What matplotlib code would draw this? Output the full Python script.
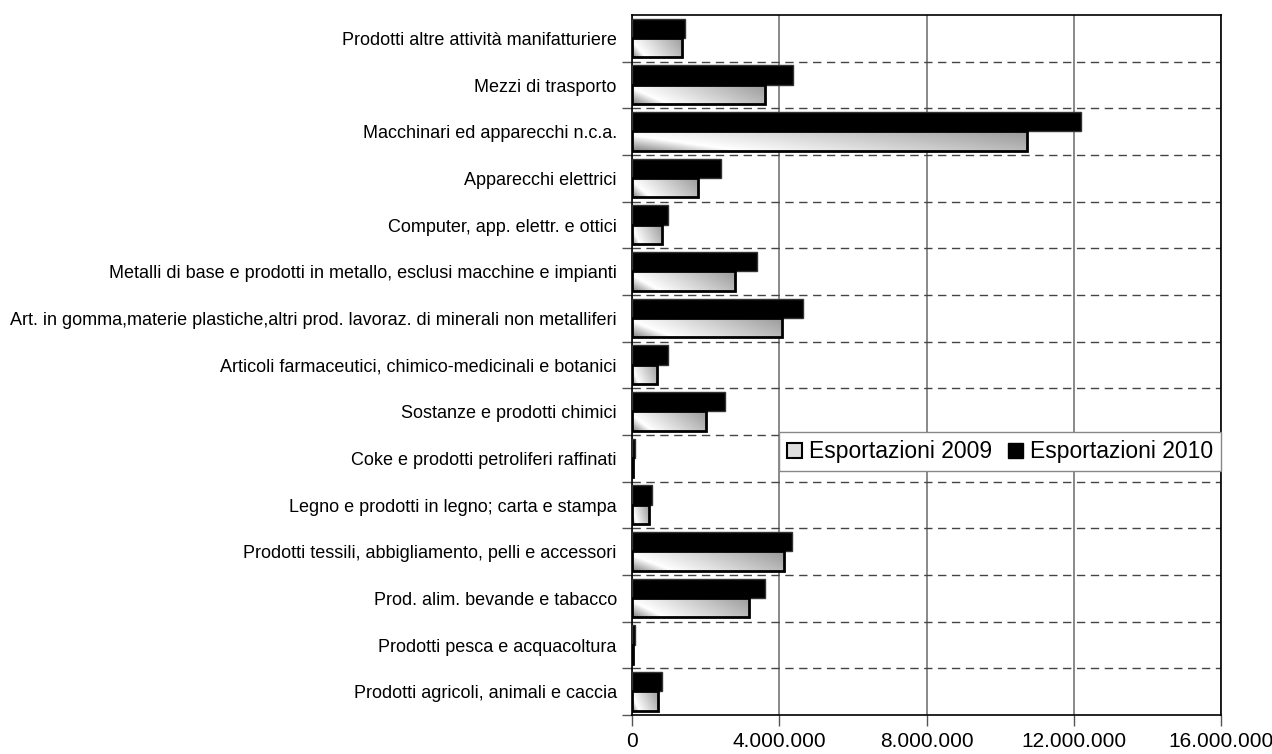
import numpy as np
import matplotlib
matplotlib.use("Agg")
import matplotlib.pyplot as plt
from matplotlib.ticker import FuncFormatter, FixedLocator
from matplotlib.patches import Patch

plt.rcParams['font.family'] = ['Liberation Sans', 'DejaVu Sans']

# categorie dal basso verso l'alto
categorie = [
    "Prodotti agricoli, animali e caccia",
    "Prodotti pesca e acquacoltura",
    "Prod. alim. bevande e tabacco",
    "Prodotti tessili, abbigliamento, pelli e accessori",
    "Legno e prodotti in legno; carta e stampa",
    "Coke e prodotti petroliferi raffinati",
    "Sostanze e prodotti chimici",
    "Articoli farmaceutici, chimico-medicinali e botanici",
    "Art. in gomma,materie plastiche,altri prod. lavoraz. di minerali non metalliferi",
    "Metalli di base e prodotti in metallo, esclusi macchine e impianti",
    "Computer, app. elettr. e ottici",
    "Apparecchi elettrici",
    "Macchinari ed apparecchi n.c.a.",
    "Mezzi di trasporto",
    "Prodotti altre attività manifatturiere",
]
exp_2009 = [710000, 30000, 3180000, 4120000, 460000, 30000, 2020000, 690000,
            4070000, 2800000, 800000, 1790000, 10740000, 3600000, 1370000]
exp_2010 = [820000, 80000, 3600000, 4350000, 540000, 90000, 2520000, 990000,
            4650000, 3390000, 980000, 2410000, 12190000, 4380000, 1430000]
xticks = [0, 4000000, 8000000, 12000000, 16000000]

fig = plt.figure(figsize=(12.72, 7.54), dpi=100)
ax = fig.add_axes([0.4969, 0.0517, 0.4630, 0.9284])

y = np.arange(len(categorie))
h = 0.42

bars10 = ax.barh(y + 0.215, exp_2010, height=h, color='black',
                 edgecolor='#333333', linewidth=1, zorder=3)
bars09 = ax.barh(y - 0.2, exp_2009, height=h, color='none',
                 edgecolor='black', linewidth=2, zorder=4)

# riempimento sfumato delle barre 2009
gx = np.linspace(0, 1, 200)
gy = np.linspace(0, 1, 40)
X, Y = np.meshgrid(gx, gy)
t = 0.75 * X + 0.25 * (1 - Y)
grad = np.where(t < 0.2, 0.5 + 0.5 * t / 0.2,
                1.0 - 0.4 * (t - 0.2) / 0.8)
for b in bars09:
    x0, y0 = b.get_x(), b.get_y()
    w, hh = b.get_width(), b.get_height()
    if w <= 0:
        continue
    im = ax.imshow(grad, cmap='gray', vmin=0, vmax=1, aspect='auto',
                   extent=[x0, x0 + w, y0, y0 + hh], origin='upper',
                   zorder=3.5, interpolation='bilinear')
    im.set_clip_path(b)

ax.set_xlim(0, 16000000)
ax.set_ylim(-0.5, len(categorie) - 0.5)

ax.set_xticks(xticks)
ax.xaxis.set_major_formatter(FuncFormatter(lambda v, p: f"{int(v):,}".replace(",", ".")))
ax.tick_params(axis='x', labelsize=15, length=8, width=1, color='#555555', pad=4)

ax.set_yticks(y)
ax.set_yticklabels(categorie)
ax.tick_params(axis='y', which='major', length=0, labelsize=13, pad=11)
ax.yaxis.set_minor_locator(FixedLocator(np.arange(-0.5, len(categorie) - 1, 1.0)))
ax.tick_params(axis='y', which='minor', length=7, width=1, color='#555555')

ax.xaxis.grid(True, color='#808080', linewidth=1.3, zorder=1)
for k in np.arange(0.5, len(categorie) - 1, 1.0):
    ax.axhline(k, color='#444444', linewidth=1, dashes=(6, 4), zorder=1)
ax.set_axisbelow(True)

for s in ax.spines.values():
    s.set_color('black')
    s.set_linewidth(1.2)

handles = [Patch(facecolor='#dddddd', edgecolor='black', linewidth=1.5),
           Patch(facecolor='black', edgecolor='black')]
leg = ax.legend(handles, ["Esportazioni 2009", "Esportazioni 2010"], ncol=2,
                loc='upper right', bbox_to_anchor=(1.0, 0.404), borderaxespad=0,
                fontsize=16.5, fancybox=False, framealpha=1, edgecolor='#888888',
                handlelength=0.65, handleheight=0.65, handletextpad=0.3,
                columnspacing=0.7, borderpad=0.35)
leg.set_zorder(10)

fig.savefig("out.png", dpi=100)
